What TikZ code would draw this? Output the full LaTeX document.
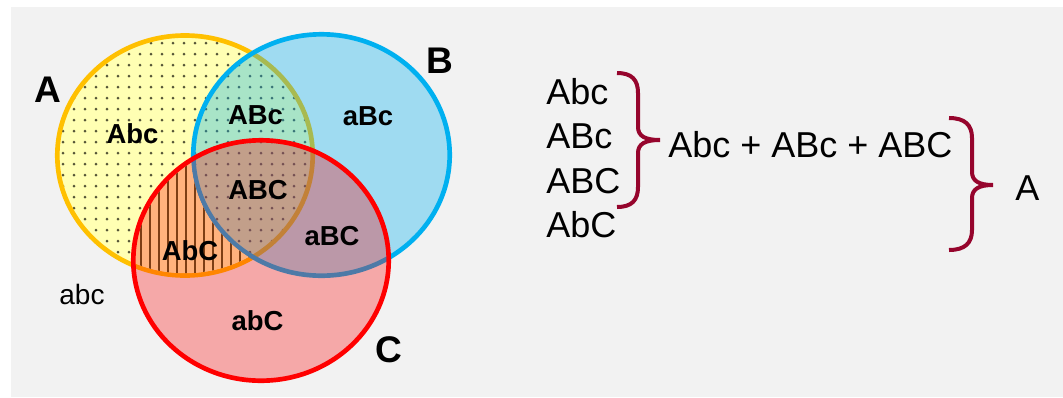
\documentclass[tikz,border=0pt]{standalone}
\usepackage{fontspec}
\setmainfont{Liberation Sans}
\begin{document}
\begin{tikzpicture}[x=0.75pt,y=-0.75pt,
  pathA/.style={insert path={(185,155.5) ellipse [x radius=127.7, y radius=120]}},
  pathB/.style={insert path={(321.5,155) ellipse [x radius=128.2, y radius=120.7]}},
  pathC/.style={insert path={(261,260.5) ellipse [x radius=127.7, y radius=120.2]}},
  ring/.style={line width=3.5pt},
  lbl/.style={font=\bfseries\fontsize{20.6pt}{24pt}\selectfont, anchor=base, inner sep=0pt},
  big/.style={font=\bfseries\fontsize{27.8pt}{32pt}\selectfont, anchor=base, inner sep=0pt},
  txt/.style={font=\fontsize{27pt}{32pt}\selectfont, anchor=base west, inner sep=0pt},
  brace/.style={draw=bracec, line width=3pt}]
\definecolor{bg}{RGB}{242,242,242}
\definecolor{Aline}{RGB}{255,192,0}
\definecolor{Afill}{RGB}{255,255,179}
\definecolor{Bline}{RGB}{0,176,240}
\definecolor{Cline}{RGB}{255,0,0}
\definecolor{dotc}{RGB}{85,85,55}
\definecolor{stripec}{RGB}{125,62,20}
\definecolor{orangef}{RGB}{255,178,125}
\definecolor{bracec}{RGB}{150,5,45}
\useasboundingbox (0,0) rectangle (1063,397);
\fill[white] (0,0) rectangle (1063,397);
\fill[bg] (11,7) rectangle (1063,397);
% A
\fill[Afill, pathA];
\begin{scope}
  \clip[pathA];
  \foreach \j in {0,...,23} {
    \pgfmathsetmacro{\yy}{32+11*\j}
    \foreach \i in {0,...,24} {
      \fill[dotc] (52+11*\i,\yy) circle [radius=1.5];
    }
  }
\end{scope}
\draw[ring, Aline, pathA];
% B
\fill[Bline, fill opacity=0.34, pathB];
\draw[ring, Bline, pathB];
% C
\fill[Cline, fill opacity=0.3, pathC];
% AbC stripes region
\begin{scope}
  \clip (185,155.5) ellipse [x radius=125.4, y radius=117.7];
  \clip (261,260.5) ellipse [x radius=125.4, y radius=117.9];
  \begin{scope}[even odd rule]
    \clip (0,0) rectangle (1063,397) (321.5,155) ellipse [x radius=130.5, y radius=123];
    \fill[orangef] (100,120) rectangle (330,300);
    \foreach \x in {132,141,...,330} {
      \draw[stripec, line width=1.7pt] (\x,120) -- (\x,300);
    }
  \end{scope}
\end{scope}
\draw[ring, Cline, pathC];
% labels
\node[big] (labA) at (47.5,102) {A};
\node[big] (labB) at (439.5,73) {B};
\node[big] (labC) at (389,362) {C};
\node[lbl] (rAbc) at (132.5,143) {Abc};
\node[lbl] (rABc) at (255.5,124) {ABc};
\node[lbl] (raBc) at (368,125) {aBc};
\node[lbl] (rABC) at (258,199) {ABC};
\node[lbl] (raBC) at (332,245) {aBC};
\node[lbl] (rAbC) at (190,260) {AbC};
\node[lbl] (rabC) at (257.5,330) {abC};
\node[font=\fontsize{21pt}{24pt}\selectfont, anchor=base, inner sep=0pt] (rabc) at (82,304) {abc};
% right side
\node[txt] (t1) at (546,104.3) {Abc};
\node[txt] (t2) at (546,148.6) {ABc};
\node[txt] (t3) at (546,193) {ABC};
\node[txt] (t4) at (546,237.3) {AbC};
\node[txt] (sum) at (668,157) {Abc + ABc + ABC};
\node[txt] (res) at (1015,200) {A};
% braces
\draw[brace] (617,73) .. controls (632,73) and (638,80) .. (638,93)
  -- (638,127) .. controls (638,136) and (645,140) .. (660,140)
  .. controls (645,140) and (638,144) .. (638,153)
  -- (638,187) .. controls (638,200) and (632,207) .. (617,207);
\draw[brace] (949,118) .. controls (965,118) and (972,125) .. (972,138)
  -- (972,172) .. controls (972,181) and (979,185) .. (993,185)
  .. controls (979,185) and (972,189) .. (972,198)
  -- (972,230) .. controls (972,243) and (965,250) .. (949,250);
\end{tikzpicture}
\end{document}
